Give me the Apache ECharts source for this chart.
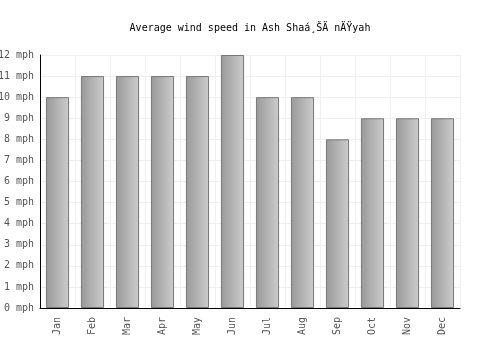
<!DOCTYPE html>
<html>
<head>
<meta charset="utf-8">
<script src="https://cdn.jsdelivr.net/npm/echarts@6/dist/echarts.min.js"></script>
<style>
    html, body { margin: 0; padding: 0; background: #fff; }
    #chart { width: 500px; height: 350px; }
</style>
</head>
<body>
<div id="chart"></div>
<script>
    var months = ['Jan', 'Feb', 'Mar', 'Apr', 'May', 'Jun', 'Jul', 'Aug', 'Sep', 'Oct', 'Nov', 'Dec'];
    var windSpeed = [10, 11, 11, 11, 11, 12, 10, 10, 8, 9, 9, 9];
    var titleText = 'Average wind speed in Ash Shaá¸ŠÄ nÄŸyah';
    var unit = ' mph';

    var font = '"DejaVu Sans Mono", monospace';
    var chart = echarts.init(document.getElementById('chart'));
    chart.setOption({
        animation: false,
        title: {
            text: titleText,
            left: 'center',
            top: 18,
            textStyle: { fontFamily: font, fontSize: 10, fontWeight: 'normal', color: '#000' }
        },
        grid: { left: 40, right: 40, top: 55, bottom: 42, outerBoundsMode: 'none', containLabel: false },
        xAxis: {
            type: 'category',
            data: months,
            axisLine: { lineStyle: { color: '#000', width: 1 } },
            axisTick: { show: false },
            axisLabel: { rotate: 90, fontFamily: font, fontSize: 10, color: '#555', margin: 9 },
            splitLine: { show: true, lineStyle: { color: '#f0f0f0' } }
        },
        yAxis: {
            type: 'value',
            min: 0,
            max: 12,
            interval: 1,
            axisLine: { show: true, lineStyle: { color: '#000', width: 1 } },
            axisTick: { show: false },
            axisLabel: {
                fontFamily: font, fontSize: 10, color: '#555', margin: 6,
                formatter: function (v) { return v + unit; }
            },
            splitLine: { lineStyle: { color: '#eeeeee' } }
        },
        series: [{
            type: 'bar',
            data: windSpeed,
            barWidth: '66%',
            itemStyle: {
                color: new echarts.graphic.LinearGradient(0, 0, 1, 0, [
                    { offset: 0, color: '#999999' },
                    { offset: 1, color: '#cccccc' }
                ]),
                borderColor: '#777777',
                borderWidth: 1
            }
        }]
    });
</script>
</body>
</html>
